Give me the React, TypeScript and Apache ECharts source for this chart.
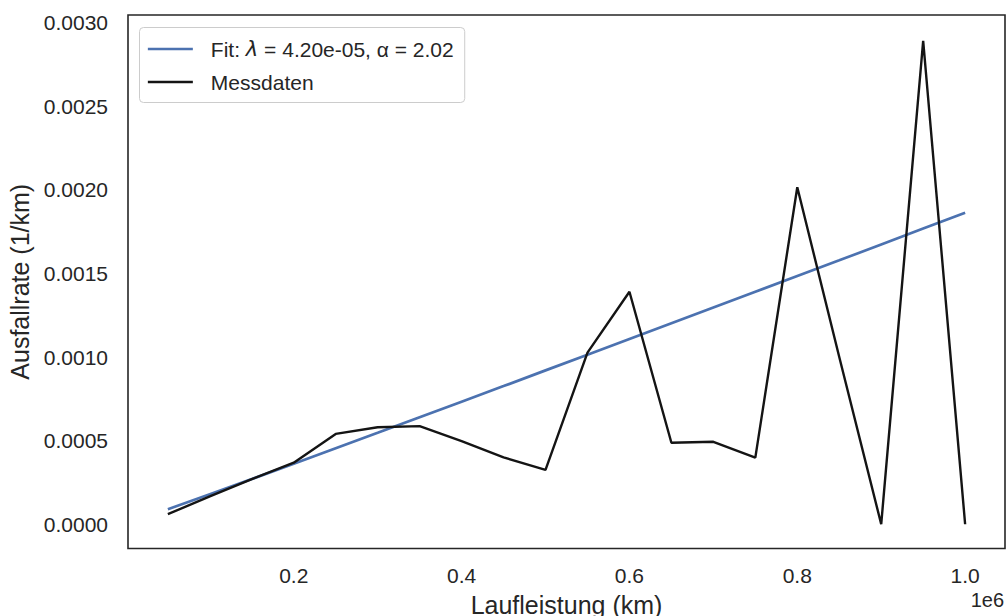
import React, { useEffect, useRef } from "react";
import * as echarts from "echarts";

// Laufleistung in km
const mileage = [
  50000, 100000, 150000, 200000, 250000, 300000, 350000, 400000, 450000, 500000,
  550000, 600000, 650000, 700000, 750000, 800000, 850000, 900000, 950000, 1000000,
];
// Messdaten: Ausfallrate (1/km)
const measured = [
  0.00006, 0.000167, 0.00027, 0.000368, 0.00054, 0.00058, 0.000587, 0.000497, 0.0004, 0.000325,
  0.001026, 0.00139, 0.000487, 0.000493, 0.000398, 0.002015, 0.001, 0.0, 0.00289, 0.0,
];
// Fit curve read at the same mileages
const fitted = [
  0.00009, 0.00018, 0.00027, 0.000362, 0.000455, 0.000547, 0.00064, 0.000733, 0.000826, 0.00092,
  0.001014, 0.001108, 0.001202, 0.001296, 0.00139, 0.001484, 0.001578, 0.001673, 0.001768, 0.001863,
];
const xTicks = [200000, 400000, 600000, 800000, 1000000];
const yTicks = [0, 0.0005, 0.001, 0.0015, 0.002, 0.0025, 0.003];

const FIT_NAME = "Fit: λ = 4.20e-05, α = 2.02";
const DATA_NAME = "Messdaten";
const TEXT = "#262626";
const FONT = "'Liberation Sans', Arial, sans-serif";
const BLUE = "#4C72B0";
const BLACK = "#141414";

export default function App() {
  const ref = useRef<HTMLDivElement>(null);
  useEffect(() => {
    if (!ref.current) return;
    const chart = echarts.init(ref.current, null, { renderer: "svg" });
    chart.setOption({
      animation: false,
      backgroundColor: "#ffffff",
      textStyle: { fontFamily: FONT },
      grid: {
        left: 128,
        right: 1,
        top: 15,
        bottom: 67.5,
        outerBoundsMode: "none",
        containLabel: false,
        show: true,
        borderColor: TEXT,
        borderWidth: 1.6,
        backgroundColor: "transparent",
      },
      xAxis: {
        type: "value",
        min: 2500,
        max: 1047500,
        name: "Laufleistung (km)",
        nameLocation: "middle",
        nameGap: 44,
        nameTextStyle: { fontSize: 25, color: TEXT, fontFamily: FONT },
        axisLine: { show: false },
        axisTick: { show: false },
        splitLine: { show: false },
        axisLabel: {
          customValues: xTicks,
          formatter: (v: number) => (v / 1e6).toFixed(1),
          fontSize: 21,
          color: TEXT,
          fontFamily: FONT,
          margin: 16,
        },
      },
      yAxis: {
        type: "value",
        min: -0.000145,
        max: 0.003045,
        name: "Ausfallrate (1/km)",
        nameLocation: "middle",
        nameGap: 88,
        nameTextStyle: { fontSize: 25, color: TEXT, fontFamily: FONT },
        axisLine: { show: false },
        axisTick: { show: false },
        splitLine: { show: false },
        axisLabel: {
          customValues: yTicks,
          formatter: (v: number) => v.toFixed(4),
          fontSize: 21,
          color: TEXT,
          fontFamily: FONT,
          margin: 20,
        },
      },
      legend: {
        orient: "vertical",
        left: 139.5,
        top: 27.5,
        padding: [11, 11, 10, 7],
        itemWidth: 45,
        itemHeight: 20,
        itemGap: 12,
        itemStyle: { opacity: 0 },
        backgroundColor: "rgba(255,255,255,0.8)",
        borderColor: "#cccccc",
        borderWidth: 1,
        borderRadius: 4,
        data: [
          { name: FIT_NAME, lineStyle: { width: 2.7, color: BLUE } },
          { name: DATA_NAME, lineStyle: { width: 2.4, color: BLACK } },
        ],
        formatter: (name: string) =>
          name === FIT_NAME ? "Fit: {it|λ} = 4.20e-05, α = 2.02" : name,
        textStyle: {
          fontSize: 21,
          lineHeight: 20,
          color: TEXT,
          fontFamily: FONT,
          padding: [0, 0, 0, 13],
          rich: {
            it: {
              fontSize: 21,
              lineHeight: 20,
              color: TEXT,
              fontStyle: "italic",
              fontFamily: "'DejaVu Sans', sans-serif",
            },
          },
        },
      },
      graphic: [
        {
          type: "text",
          right: 2,
          top: 590,
          style: { text: "1e6", fontSize: 20, fill: TEXT, fontFamily: FONT },
        },
      ],
      series: [
        {
          name: FIT_NAME,
          type: "line",
          symbol: "none",
          data: mileage.map((x, i) => [x, fitted[i]]),
          lineStyle: { color: BLUE, width: 2.7 },
          itemStyle: { color: BLUE },
          z: 2,
        },
        {
          name: DATA_NAME,
          type: "line",
          symbol: "none",
          data: mileage.map((x, i) => [x, measured[i]]),
          lineStyle: { color: BLACK, width: 2.4 },
          itemStyle: { color: BLACK },
          z: 3,
        },
      ],
    });
    return () => chart.dispose();
  }, []);
  return (
    <div
      ref={ref}
      style={{ position: "absolute", left: 0, top: 0, width: 1006, height: 616 }}
    />
  );
}
